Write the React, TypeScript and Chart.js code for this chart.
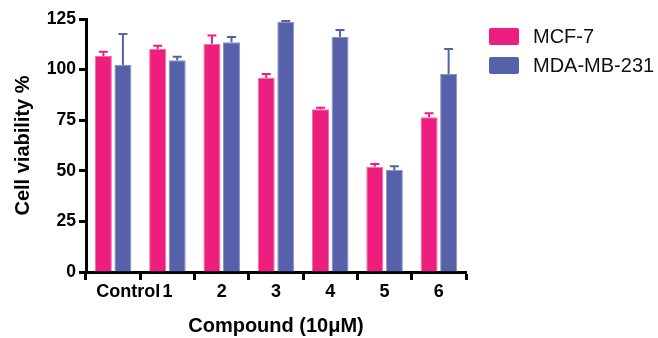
import React, { useEffect, useRef } from "react";
import { Chart, registerables } from "chart.js";

Chart.register(...registerables);

const categories = ["Control", "1", "2", "3", "4", "5", "6"];
const seriesNames = ["MCF-7", "MDA-MB-231"];
const mcf7Values = [106.7, 110.2, 112.8, 95.8, 80.4, 52.0, 76.4];
const mcf7Errors = [2.1, 1.6, 4.0, 2.0, 0.7, 1.4, 2.0];
const mdaValues = [102.3, 104.6, 113.5, 123.5, 116.1, 50.4, 97.8];
const mdaErrors = [15.3, 1.8, 2.6, 0.5, 3.5, 1.8, 12.4];
const yTicks = [0, 25, 50, 75, 100, 125];

const PINK = "#EE1E7F";
const BLUE = "#5661A9";
const FONT = "'Liberation Sans', Arial, sans-serif";

const errorBarPlugin = {
  id: "errorBars",
  afterDatasetsDraw(chart: any) {
    const ctx = chart.ctx;
    const yScale = chart.scales.y;
    chart.data.datasets.forEach((ds: any, di: number) => {
      const meta = chart.getDatasetMeta(di);
      const errs: number[] = ds.errors || [];
      meta.data.forEach((bar: any, i: number) => {
        const v = ds.data[i];
        const e = errs[i];
        if (e == null) return;
        const yTop = yScale.getPixelForValue(v + e);
        const yBase = yScale.getPixelForValue(v);
        ctx.save();
        ctx.strokeStyle = ds.backgroundColor;
        ctx.lineWidth = 2;
        ctx.beginPath();
        ctx.moveTo(bar.x, yBase);
        ctx.lineTo(bar.x, yTop);
        ctx.moveTo(bar.x - 4.5, yTop);
        ctx.lineTo(bar.x + 4.5, yTop);
        ctx.stroke();
        ctx.restore();
      });
    });
  },
};

const legendPlugin = {
  id: "sideLegend",
  afterDraw(chart: any) {
    const ctx = chart.ctx;
    ctx.save();
    chart.data.datasets.forEach((ds: any, i: number) => {
      const top = 28 + i * 29;
      ctx.fillStyle = ds.backgroundColor;
      ctx.beginPath();
      (ctx as any).roundRect ? (ctx as any).roundRect(489, top, 30, 17, 2) : ctx.rect(489, top, 30, 17);
      ctx.fill();
      ctx.fillStyle = "#111111";
      ctx.font = `20px ${FONT}`;
      ctx.textBaseline = "middle";
      ctx.textAlign = "left";
      ctx.fillText(ds.label, 533, top + 9);
    });
    ctx.restore();
  },
};

export default function App() {
  const ref = useRef<HTMLCanvasElement | null>(null);
  useEffect(() => {
    if (!ref.current) return;
    const chart = new Chart(ref.current, {
      type: "bar",
      data: {
        labels: categories,
        datasets: [
          {
            label: seriesNames[0],
            data: mcf7Values,
            errors: mcf7Errors,
            backgroundColor: PINK,
            borderColor: "#F36AA8",
            borderWidth: 1,
            categoryPercentage: 0.72,
            barPercentage: 0.87,
          } as any,
          {
            label: seriesNames[1],
            data: mdaValues,
            errors: mdaErrors,
            backgroundColor: BLUE,
            borderColor: "#8A92C8",
            borderWidth: 1,
            categoryPercentage: 0.72,
            barPercentage: 0.87,
          } as any,
        ],
      },
      options: {
        animation: false,
        responsive: false,
        maintainAspectRatio: false,
        layout: { padding: { top: 19, right: 192, left: 0, bottom: 0 } },
        plugins: {
          legend: { display: false },
          tooltip: { enabled: false },
        },
        scales: {
          x: {
            grid: {
              display: true,
              drawOnChartArea: false,
              drawTicks: true,
              tickLength: 8,
              tickWidth: 3,
              tickColor: "#000",
            },
            border: { display: true, color: "#000", width: 3 },
            ticks: {
              color: "#000",
              font: { family: FONT, size: 18, weight: "bold" },
              padding: 1,
              maxRotation: 0,
              autoSkip: false,
              callback(this: any, value: any, index: number) {
                const label = categories[index];
                return index === 0 ? "      " + label : label;
              },
            },
            title: {
              display: true,
              text: "Compound (10μM)",
              color: "#000",
              font: { family: FONT, size: 20, weight: "bold" },
              padding: { top: 0, bottom: 0 },
            },
            afterFit(scale: any) {
              scale.height = 66;
            },
          },
          y: {
            min: 0,
            max: 125,
            afterBuildTicks(scale: any) {
              scale.ticks = yTicks.map((v) => ({ value: v }));
            },
            grid: {
              display: true,
              drawOnChartArea: false,
              drawTicks: true,
              tickLength: 7,
              tickWidth: 3,
              tickColor: "#000",
            },
            border: { display: true, color: "#000", width: 3 },
            ticks: {
              color: "#000",
              font: { family: FONT, size: 17.5, weight: "bold" },
              padding: 3,
            },
            title: {
              display: true,
              text: "Cell viability %",
              color: "#000",
              font: { family: FONT, size: 20, weight: "bold" },
              padding: { top: 11, bottom: 0 },
            },
            afterFit(scale: any) {
              scale.width = 86;
            },
          },
        },
      },
      plugins: [errorBarPlugin, legendPlugin],
    });
    return () => chart.destroy();
  }, []);
  return (
    <div style={{ position: "absolute", left: 0, top: 0, width: 658, height: 338, background: "#fff" }}>
      <canvas ref={ref} width={658} height={338} style={{ display: "block", width: 658, height: 338 }} />
    </div>
  );
}
